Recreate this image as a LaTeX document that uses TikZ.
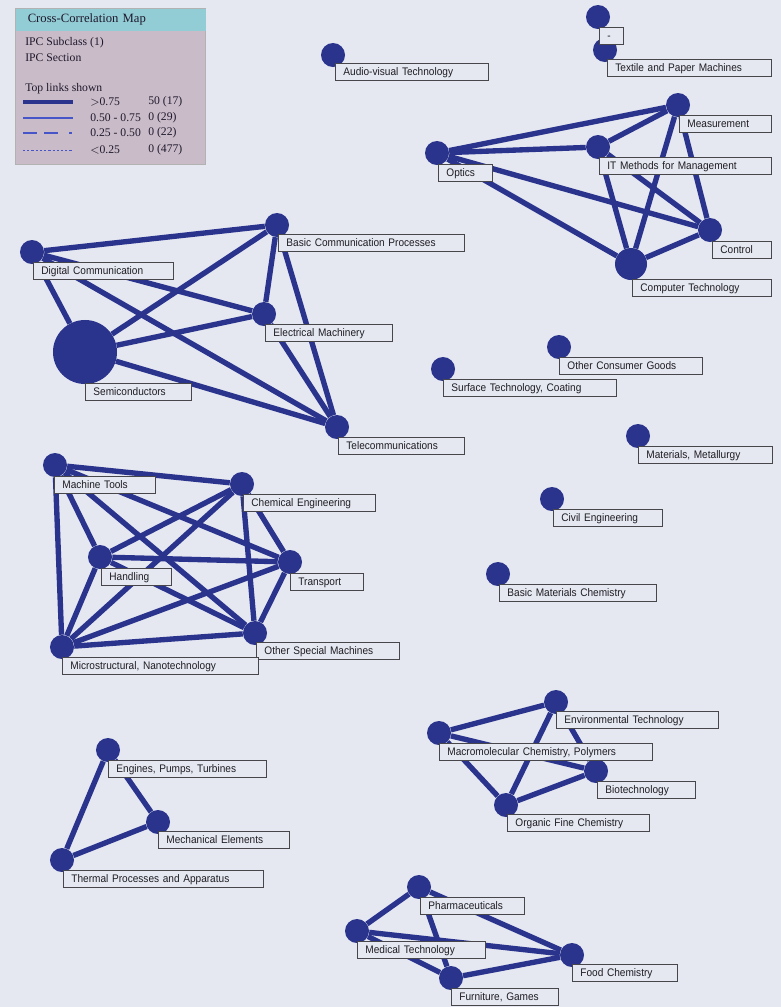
\documentclass[tikz,border=0pt]{standalone}
\usepackage{fontspec}
\setmainfont{Liberation Serif}
\newfontfamily\tagfont[FakeStretch=0.92]{Liberation Sans}
\usepackage{xcolor}
\usepackage{tikz}
\usetikzlibrary{backgrounds}

\definecolor{pagebg}{RGB}{229,231,241}
\definecolor{hubblue}{RGB}{42,52,140}
\definecolor{legblue}{RGB}{70,85,200}
\definecolor{tagline}{RGB}{70,70,75}
\definecolor{tagtext}{RGB}{30,30,35}
\definecolor{legendbg}{RGB}{201,187,199}
\definecolor{legendbar}{RGB}{146,204,212}
\definecolor{legtext}{RGB}{30,25,45}

\begin{document}
\begin{tikzpicture}[
    x=0.025cm, y=-0.025cm,
    hub/.style={circle, fill=hubblue, minimum size=0.6cm, inner sep=0pt},
    midhub/.style={hub, minimum size=0.8cm},
    bighub/.style={hub, minimum size=1.6cm},
    tag/.style={draw=tagline, line width=0.6pt, fill=pagebg, anchor=north west, minimum height=0.425cm, inner xsep=0.2cm, inner ysep=0pt, text height=1.6ex, text depth=0.35ex, align=left, text=tagtext, font=\tagfont\fontsize{7.8}{9}\selectfont},
    link/.style={draw=hubblue, line width=3.8pt},
    legtext/.style={anchor=west, inner sep=0pt, text=legtext, font=\fontsize{8.3}{10}\selectfont},
]
    \useasboundingbox (0,0) rectangle (781,1007);
    \begin{pgfonlayer}{background}
        \fill[pagebg] (0,0) rectangle (781,1007);
    \end{pgfonlayer}

    % legend
    \node[draw=gray!60, fill=legendbg, anchor=north west, minimum width=4.75cm, minimum height=3.9cm, inner sep=0pt] (legend) at (15,8) {};
    \node[fill=legendbar, anchor=north west, text width=4.15cm, minimum height=0.55cm, inner xsep=0.3cm, inner ysep=0pt, text=legtext, font=\fontsize{9}{10}\selectfont] (legendtitle) at (15.5,8.5) {Cross-Correlation Map};
    \node[legtext] (subclass) at (25,43) {IPC Subclass (1)};
    \node[legtext] (section) at (25,58) {IPC Section};
    \node[legtext] (toplinks) at (25,89) {Top links shown};
    \node[legtext] (band1) at (90,102) {$>$0.75};
    \node[legtext] (band2) at (90,118) {0.50 - 0.75};
    \node[legtext] (band3) at (90,133) {0.25 - 0.50};
    \node[legtext] (band4) at (90,150) {$<$0.25};
    \node[legtext] (count1) at (148,102) {50 (17)};
    \node[legtext] (count2) at (148,118) {0 (29)};
    \node[legtext] (count3) at (148,133) {0 (22)};
    \node[legtext] (count4) at (148,150) {0 (477)};
    \draw[hubblue, line width=3.2pt] (23,102) -- (73,102);
    \draw[legblue, line width=0.8pt] (23,118) -- (73,118);
    \draw[legblue, line width=0.8pt, dash pattern=on 10pt off 5pt on 10pt off 8pt on 1.5pt off 5pt] (23,133) -- (73,133);
    \draw[legblue, line width=0.6pt, dash pattern=on 1.6pt off 1.4pt] (23,150) -- (73,150);

    % sections
    \node[hub] (misc) at (598,17) {};
    \node[hub] (textile) at (605,50) {};
    \node[hub] (audio) at (333,55) {};
    \node[hub] (measure) at (678,105) {};
    \node[hub] (itmgmt) at (598,147) {};
    \node[hub] (optics) at (437,153) {};
    \node[hub] (control) at (710,230) {};
    \node[midhub] (comptech) at (631,264) {};
    \node[hub] (digcomm) at (32,252) {};
    \node[hub] (basiccomm) at (277,225) {};
    \node[hub] (elecmach) at (264,314) {};
    \node[bighub] (semicond) at (85,352) {};
    \node[hub] (telecom) at (337,427) {};
    \node[hub] (surface) at (443,369) {};
    \node[hub] (consumer) at (559,347) {};
    \node[hub] (metals) at (638,436) {};
    \node[hub] (civil) at (552,499) {};
    \node[hub] (basicmat) at (498,574) {};
    \node[hub] (machtools) at (55,465) {};
    \node[hub] (chemeng) at (242,484) {};
    \node[hub] (handling) at (100,557) {};
    \node[hub] (transport) at (290,562) {};
    \node[hub] (specmach) at (255,633) {};
    \node[hub] (nano) at (62,647) {};
    \node[hub] (engines) at (108,750) {};
    \node[hub] (mechel) at (158,822) {};
    \node[hub] (thermal) at (62,860) {};
    \node[hub] (envtech) at (556,702) {};
    \node[hub] (polymers) at (439,733) {};
    \node[hub] (biotech) at (596,771) {};
    \node[hub] (organic) at (506,805) {};
    \node[hub] (pharma) at (419,887) {};
    \node[hub] (medtech) at (357,931) {};
    \node[hub] (foodchem) at (572,955) {};
    \node[hub] (furniture) at (451,978) {};

    % links (behind the sections)
    \begin{pgfonlayer}{background}
    \draw[link] (optics) -- (measure);
    \draw[link] (optics) -- (itmgmt);
    \draw[link] (optics) -- (control);
    \draw[link] (optics) -- (comptech);
    \draw[link] (itmgmt) -- (measure);
    \draw[link] (itmgmt) -- (control);
    \draw[link] (itmgmt) -- (comptech);
    \draw[link] (measure) -- (control);
    \draw[link] (measure) -- (comptech);
    \draw[link] (control) -- (comptech);
    \draw[link] (digcomm) -- (basiccomm);
    \draw[link] (digcomm) -- (elecmach);
    \draw[link] (digcomm) -- (semicond);
    \draw[link] (digcomm) -- (telecom);
    \draw[link] (basiccomm) -- (semicond);
    \draw[link] (basiccomm) -- (elecmach);
    \draw[link] (basiccomm) -- (telecom);
    \draw[link] (elecmach) -- (semicond);
    \draw[link] (elecmach) -- (telecom);
    \draw[link] (semicond) -- (telecom);
    \draw[link] (machtools) -- (chemeng);
    \draw[link] (machtools) -- (handling);
    \draw[link] (machtools) -- (transport);
    \draw[link] (machtools) -- (specmach);
    \draw[link] (machtools) -- (nano);
    \draw[link] (chemeng) -- (handling);
    \draw[link] (chemeng) -- (transport);
    \draw[link] (chemeng) -- (specmach);
    \draw[link] (chemeng) -- (nano);
    \draw[link] (handling) -- (transport);
    \draw[link] (handling) -- (specmach);
    \draw[link] (handling) -- (nano);
    \draw[link] (transport) -- (specmach);
    \draw[link] (transport) -- (nano);
    \draw[link] (specmach) -- (nano);
    \draw[link] (engines) -- (mechel);
    \draw[link] (engines) -- (thermal);
    \draw[link] (mechel) -- (thermal);
    \draw[link] (envtech) -- (polymers);
    \draw[link] (envtech) -- (biotech);
    \draw[link] (envtech) -- (organic);
    \draw[link] (polymers) -- (biotech);
    \draw[link] (polymers) -- (organic);
    \draw[link] (biotech) -- (organic);
    \draw[link] (pharma) -- (medtech);
    \draw[link] (pharma) -- (foodchem);
    \draw[link] (pharma) -- (furniture);
    \draw[link] (medtech) -- (foodchem);
    \draw[link] (medtech) -- (furniture);
    \draw[link] (foodchem) -- (furniture);
    \end{pgfonlayer}

    % labels
    \node[tag, text width=0.2cm] (misc-tag) at (599,27) {-};
    \node[tag, text width=3.7cm] (textile-tag) at (607,59) {Textile and Paper Machines};
    \node[tag, text width=3.425cm] (audio-tag) at (335,63) {Audio-visual Technology};
    \node[tag, text width=1.9cm] (measure-tag) at (679,115) {Measurement};
    \node[tag, text width=3.9cm] (itmgmt-tag) at (599,157) {IT Methods for Management};
    \node[tag, text width=0.95cm] (optics-tag) at (438,164) {Optics};
    \node[tag, text width=1.075cm] (control-tag) at (712,241) {Control};
    \node[tag, text width=3.075cm] (comptech-tag) at (632,279) {Computer Technology};
    \node[tag, text width=3.1cm] (digcomm-tag) at (33,262) {Digital Communication};
    \node[tag, text width=4.25cm] (basiccomm-tag) at (278,234) {Basic Communication Processes};
    \node[tag, text width=2.775cm] (elecmach-tag) at (265,324) {Electrical Machinery};
    \node[tag, text width=2.25cm] (semicond-tag) at (85,383) {Semiconductors};
    \node[tag, text width=2.75cm] (telecom-tag) at (338,437) {Telecommunications};
    \node[tag, text width=3.925cm] (surface-tag) at (443,379) {Surface Technology, Coating};
    \node[tag, text width=3.175cm] (consumer-tag) at (559,357) {Other Consumer Goods};
    \node[tag, text width=2.95cm] (metals-tag) at (638,446) {Materials, Metallurgy};
    \node[tag, text width=2.325cm] (civil-tag) at (553,509) {Civil Engineering};
    \node[tag, text width=3.525cm] (basicmat-tag) at (499,584) {Basic Materials Chemistry};
    \node[tag, text width=2.125cm] (machtools-tag) at (54,476) {Machine Tools};
    \node[tag, text width=2.9cm] (chemeng-tag) at (243,494) {Chemical Engineering};
    \node[tag, text width=1.35cm] (handling-tag) at (101,568) {Handling};
    \node[tag, text width=1.425cm] (transport-tag) at (290,573) {Transport};
    \node[tag, text width=3.175cm] (specmach-tag) at (256,642) {Other Special Machines};
    \node[tag, text width=4.5cm] (nano-tag) at (62,657) {Microstructural, Nanotechnology};
    \node[tag, text width=3.55cm] (engines-tag) at (108,760) {Engines, Pumps, Turbines};
    \node[tag, text width=2.875cm] (mechel-tag) at (158,831) {Mechanical Elements};
    \node[tag, text width=4.6cm] (thermal-tag) at (63,870) {Thermal Processes and Apparatus};
    \node[tag, text width=3.65cm] (envtech-tag) at (556,711) {Environmental Technology};
    \node[tag, text width=4.925cm] (polymers-tag) at (439,743) {Macromolecular Chemistry, Polymers};
    \node[tag, text width=2.05cm] (biotech-tag) at (597,781) {Biotechnology};
    \node[tag, text width=3.15cm] (organic-tag) at (507,814) {Organic Fine Chemistry};
    \node[tag, text width=2.2cm] (pharma-tag) at (420,897) {Pharmaceuticals};
    \node[tag, text width=2.8cm] (medtech-tag) at (357,941) {Medical Technology};
    \node[tag, text width=2.225cm] (foodchem-tag) at (572,964) {Food Chemistry};
    \node[tag, text width=2.275cm] (furniture-tag) at (451,988) {Furniture, Games};
\end{tikzpicture}
\end{document}
